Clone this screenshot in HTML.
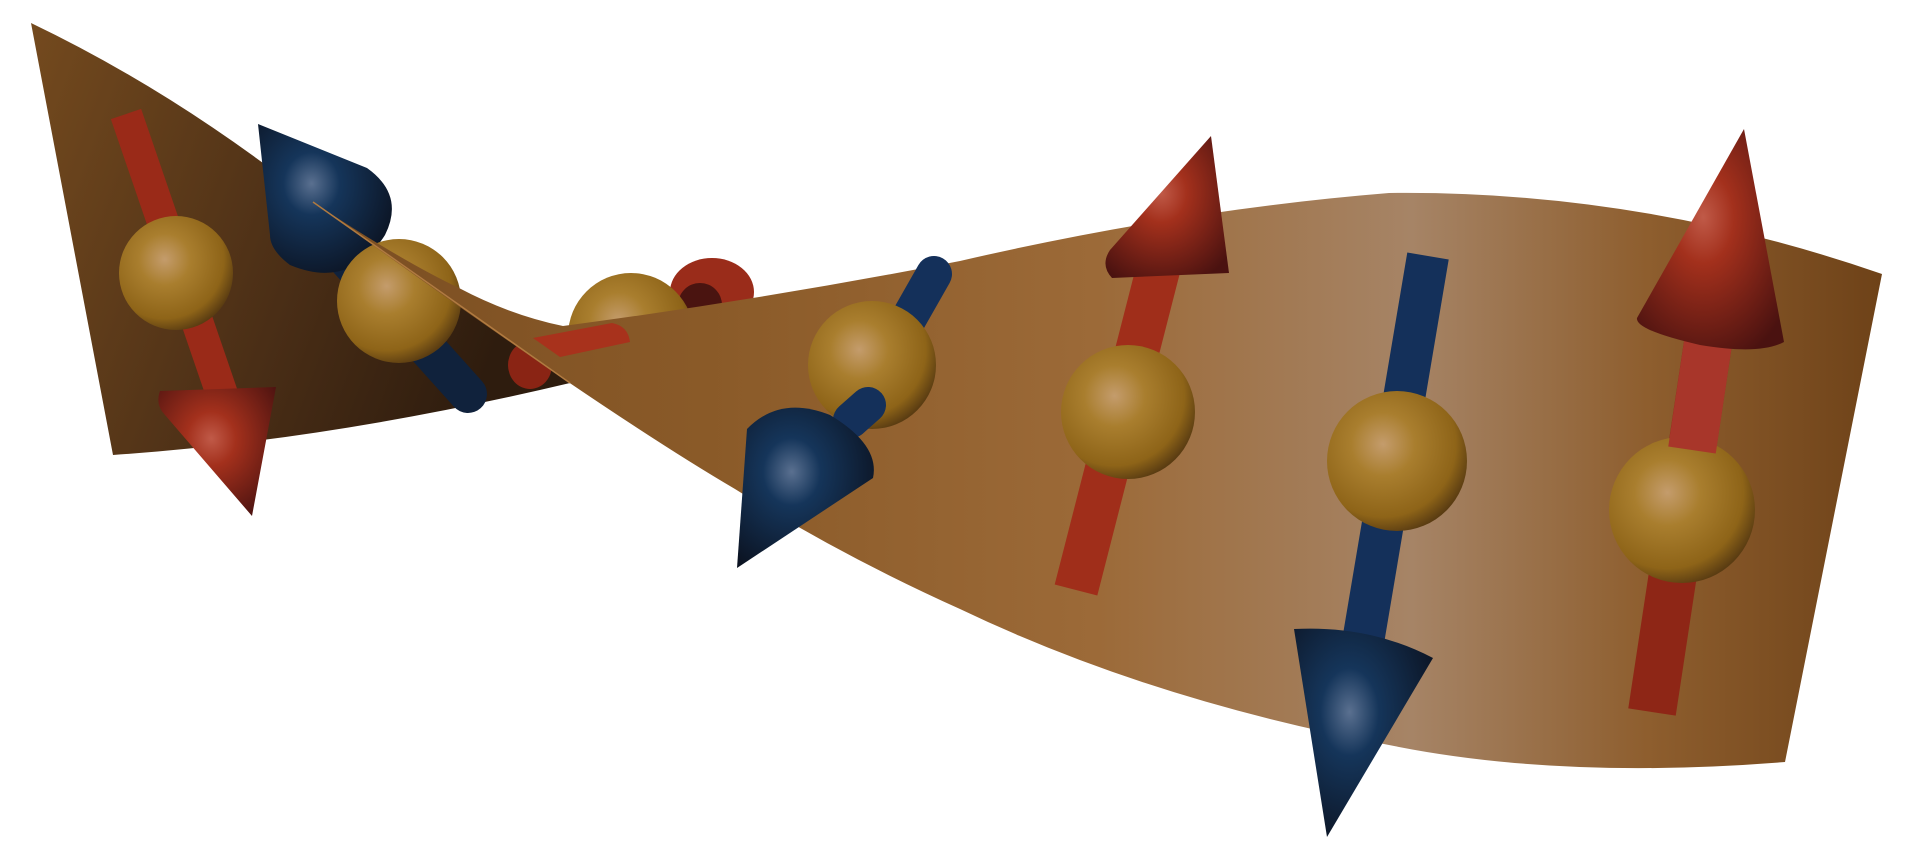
<!DOCTYPE html>
<html><head><meta charset="utf-8"><title>Twisted ribbon with spin arrows</title>
<style>html,body{margin:0;padding:0;background:#fff;width:1920px;height:852px;overflow:hidden}</style></head>
<body>
<svg width="1920" height="852" viewBox="0 0 1920 852" xmlns="http://www.w3.org/2000/svg">
<defs>
<linearGradient id="backRib" x1="0" y1="0" x2="1" y2="0.3">
<stop offset="0" stop-color="#744a1e"/><stop offset="0.6" stop-color="#4a2e16"/><stop offset="1" stop-color="#2e1c0e"/></linearGradient>
<linearGradient id="frontRib" x1="0" y1="0" x2="1" y2="0">
<stop offset="0" stop-color="#7a4e22"/><stop offset="0.25" stop-color="#8a5a28"/><stop offset="0.5" stop-color="#9c6a38"/><stop offset="0.7" stop-color="#a68466"/><stop offset="0.85" stop-color="#8e5e2e"/><stop offset="1" stop-color="#6e4218"/></linearGradient>
<radialGradient id="gold" cx="0.4" cy="0.38" r="0.65">
<stop offset="0" stop-color="#c49c6c"/><stop offset="0.35" stop-color="#a97e2e"/><stop offset="0.8" stop-color="#8e6418"/><stop offset="1" stop-color="#5a3c12"/></radialGradient>
<radialGradient id="red" cx="0.45" cy="0.4" r="0.7">
<stop offset="0" stop-color="#c05a48"/><stop offset="0.3" stop-color="#a3301c"/><stop offset="1" stop-color="#4a1210"/></radialGradient>
<radialGradient id="blue" cx="0.4" cy="0.4" r="0.7">
<stop offset="0" stop-color="#5a7090"/><stop offset="0.3" stop-color="#15355a"/><stop offset="1" stop-color="#0b1220"/></radialGradient>
</defs>

<path d="M31 23 Q150 80 263 163 Q420 280 570 383 Q330 440 113 455 Z" fill="url(#backRib)"/>

<!-- arrow 1 red down -->
<line x1="126" y1="114" x2="224" y2="400" stroke="#9a2a18" stroke-width="32"/>
<path d="M160 391 Q155 405 165 415 L252 516 L276 387 Z" fill="url(#red)"/>
<circle cx="176" cy="273" r="57" fill="url(#gold)"/>

<!-- arrow 2 blue -->
<line x1="330" y1="240" x2="468" y2="394" stroke="#10223c" stroke-width="38" stroke-linecap="round"/>
<path d="M258 124 L367 168 Q405 195 385 235 Q350 290 290 265 Q270 250 270 235 Z" fill="url(#blue)"/>
<circle cx="399" cy="301" r="62" fill="url(#gold)"/>

<!-- arrow 3 red horizontal -->
<ellipse cx="712" cy="292" rx="42" ry="34" fill="#9a2c1a"/>
<ellipse cx="700" cy="305" rx="22" ry="22" fill="#4a1410"/>
<ellipse cx="530" cy="365" rx="22" ry="24" fill="#8a2414"/>
<circle cx="631" cy="336" r="63" fill="url(#gold)"/>

<path d="M313 202 Q400 260 459 288 Q510 315 563 326 Q760 300 960 261 Q1180 210 1389 193 Q1640 190 1882 274 L1785 762 Q1560 780 1389 745 Q1150 700 960 609 Q840 555 735 489 Q600 410 313 202 Z" fill="url(#frontRib)"/>
<path d="M533 338 L612 323 Q628 326 630 342 L560 357 Z" fill="#a8321c"/>
<line x1="313" y1="202" x2="570" y2="383" stroke="#b07a40" stroke-width="1.5"/>

<!-- arrow 4 blue down -->
<line x1="934" y1="274" x2="851" y2="420" stroke="#14305a" stroke-width="36" stroke-linecap="round"/>
<circle cx="872" cy="365" r="64" fill="url(#gold)"/>
<line x1="868" y1="405" x2="851" y2="420" stroke="#14305a" stroke-width="36" stroke-linecap="round"/>
<path d="M747 429 Q780 395 830 415 Q880 445 873 478 L737 568 Z" fill="url(#blue)"/>

<!-- arrow 5 red up -->
<line x1="1160" y1="262" x2="1076" y2="590" stroke="#a02e1a" stroke-width="44"/>
<path d="M1211 136 L1229 273 L1112 278 Q1100 265 1110 250 Z" fill="url(#red)"/>
<circle cx="1128" cy="412" r="67" fill="url(#gold)"/>

<!-- arrow 6 blue down -->
<line x1="1428" y1="256" x2="1364" y2="636" stroke="#14305a" stroke-width="42"/>
<circle cx="1397" cy="461" r="70" fill="url(#gold)"/>
<path d="M1294 629 Q1370 625 1433 658 L1327 837 Z" fill="url(#blue)"/>

<!-- arrow 7 red up -->
<line x1="1710" y1="330" x2="1652" y2="712" stroke="#8e2616" stroke-width="48"/>
<circle cx="1682" cy="510" r="73" fill="url(#gold)"/>
<line x1="1710" y1="330" x2="1692" y2="450" stroke="#a8362a" stroke-width="48"/>
<path d="M1744 129 L1784 342 Q1760 355 1700 345 Q1635 330 1637 318 Z" fill="url(#red)"/>
</svg>
</body></html>
